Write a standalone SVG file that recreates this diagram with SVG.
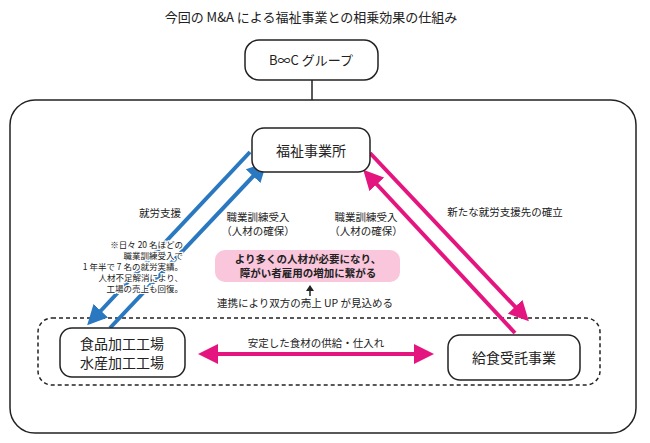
<svg xmlns="http://www.w3.org/2000/svg" width="650" height="443" viewBox="0 0 650 443">
<style>
text{font-family:"Noto Sans CJK JP","Noto Sans",sans-serif;fill:#222}
.box{fill:#fff;stroke:#222;stroke-width:1.5}
.blue{stroke:#2a78c0;stroke-width:4;fill:none}
.pink{stroke:#e5157f;stroke-width:4;fill:none}
</style>
<defs>
<marker id="bh" viewBox="0 0 10 10" refX="5" refY="5" markerWidth="5" markerHeight="5" orient="auto"><path d="M0,0L10,5L0,10z" fill="#2a78c0"/></marker>
<marker id="ph" viewBox="0 0 10 10" refX="5" refY="5" markerWidth="5" markerHeight="5" orient="auto-start-reverse"><path d="M0,0L10,5L0,10z" fill="#e5157f"/></marker>
</defs>
<text x="311" y="22" font-size="13" text-anchor="middle">今回の M&amp;A による福祉事業との相乗効果の仕組み</text>
<rect x="10" y="100" width="626" height="333" rx="25" fill="none" stroke="#222" stroke-width="1.5"/>
<rect x="38" y="318" width="562" height="67" rx="14" fill="none" stroke="#222" stroke-width="1.5" stroke-dasharray="4,3"/>
<g id="connectors">
<line x1="312" y1="80" x2="312" y2="100" stroke="#222" stroke-width="1.5"/>
<line class="blue" x1="250" y1="152" x2="94" y2="318" marker-end="url(#bh)"/>
<line class="blue" x1="110" y1="328" x2="260" y2="169" marker-end="url(#bh)"/>
<line class="pink" x1="370" y1="153" x2="522" y2="314" marker-end="url(#ph)"/>
<line class="pink" x1="515" y1="333" x2="370" y2="177" marker-end="url(#ph)"/>
<line class="pink" x1="208" y1="354" x2="424" y2="354" marker-start="url(#ph)" marker-end="url(#ph)"/>
<line x1="310" y1="296" x2="310" y2="287" stroke="#222" stroke-width="1.5"/>
<path d="M306,291L310,285L314,291z" fill="#222"/>
</g>
<g id="bc"><rect class="box" x="245" y="40" width="133" height="40" rx="14"/><text x="311" y="65" font-size="13" text-anchor="middle">B∞C グループ</text></g>
<g id="fukushi"><rect class="box" x="252" y="128" width="118" height="44" rx="12"/><text x="311" y="156" font-size="14" text-anchor="middle">福祉事業所</text></g>
<g id="food"><rect class="box" x="60" y="328" width="125" height="49" rx="12"/><text x="122" y="349" font-size="14" text-anchor="middle">食品加工工場</text><text x="122" y="368" font-size="14" text-anchor="middle">水産加工工場</text></g>
<g id="kyushoku"><rect class="box" x="448" y="335" width="132" height="45" rx="12"/><text x="514" y="363" font-size="14" text-anchor="middle">給食受託事業</text></g>
<g id="labels" font-size="10">
<text x="160" y="217" font-size="10.5" text-anchor="middle">就労支援</text>
<text x="258" y="221" font-size="10.5" text-anchor="middle">職業訓練受入</text>
<text x="258" y="235" font-size="10.5" text-anchor="middle">（人材の確保）</text>
<text x="366" y="221" font-size="10.5" text-anchor="middle">職業訓練受入</text>
<text x="366" y="235" font-size="10.5" text-anchor="middle">（人材の確保）</text>
<text x="505" y="216" font-size="10.5" text-anchor="middle">新たな就労支援先の確立</text>
<g font-size="8.5" text-anchor="end" style="paint-order:stroke;stroke:#fff;stroke-width:2.5">
<text x="183" y="248">※日々 20 名ほどの</text>
<text x="183" y="259">職業訓練受入で</text>
<text x="183" y="270">1 年半で 7 名の就労実績。</text>
<text x="183" y="281">人材不足解消により、</text>
<text x="183" y="292">工場の売上も回復。</text>
</g>
<rect x="215" y="250" width="185" height="32" rx="10" fill="#f9c6dc"/>
<text x="308" y="263" font-size="10.5" font-weight="bold" text-anchor="middle">より多くの人材が必要になり、</text>
<text x="308" y="277" font-size="10.5" font-weight="bold" text-anchor="middle">障がい者雇用の増加に繋がる</text>
<text x="305" y="307" font-size="10.5" text-anchor="middle">連携により双方の売上 UP が見込める</text>
<text x="316" y="347" font-size="10.5" text-anchor="middle">安定した食材の供給・仕入れ</text>
</g>
</svg>
